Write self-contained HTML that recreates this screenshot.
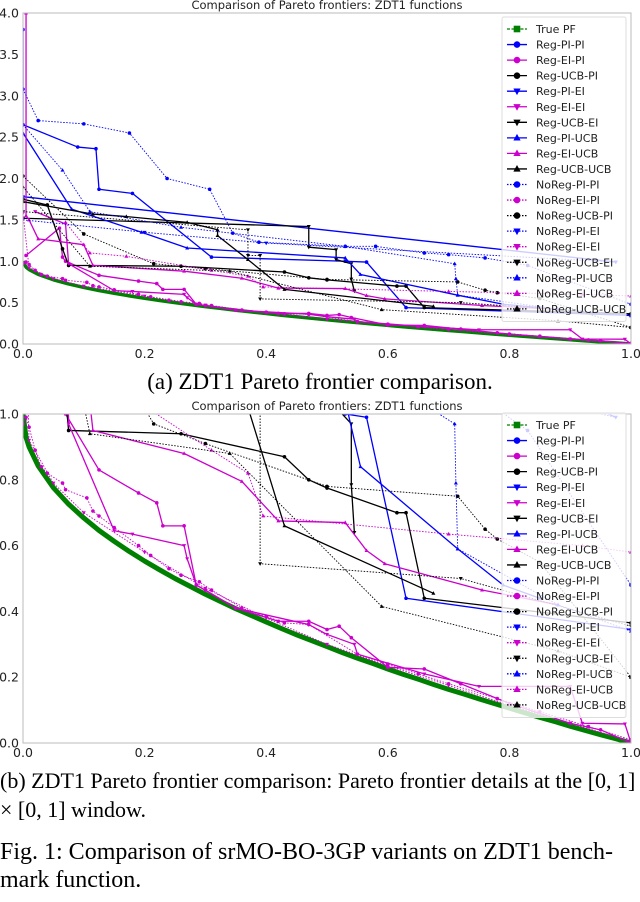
<!DOCTYPE html>
<html><head><meta charset="utf-8">
<style>
html,body{margin:0;padding:0;background:#fff;}
body{width:640px;height:902px;position:relative;overflow:hidden;}
.cap{position:absolute;left:0;font-family:"Liberation Serif",serif;color:#000;white-space:nowrap;line-height:1;}
svg text{font-family:"DejaVu Sans","Liberation Sans",sans-serif;}
</style></head>
<body>
<svg id="fig" width="640" height="770" style="position:absolute;left:0;top:0"></svg>
<div class="cap" style="top:370px;width:640px;text-align:center;font-size:23px;">(a) ZDT1 Pareto frontier comparison.</div>
<div class="cap" style="top:770px;font-size:22px;">(b) ZDT1 Pareto frontier comparison: Pareto frontier details at the [0, 1]</div>
<div class="cap" style="top:799px;font-size:22px;">× [0, 1] window.</div>
<div class="cap" style="top:840px;font-size:24px;">Fig. 1: Comparison of srMO-BO-3GP variants on ZDT1 bench-</div>
<div class="cap" style="top:868px;font-size:24px;">mark function.</div>
<script>
const truePF = [[0,1],[0.005,0.929],[0.01,0.9],[0.025,0.842],[0.05,0.776],[0.075,0.726],[0.1,0.684],[0.125,0.646],[0.15,0.613],[0.175,0.582],[0.2,0.553],[0.225,0.526],[0.25,0.5],[0.275,0.476],[0.3,0.452],[0.325,0.43],[0.35,0.408],[0.375,0.388],[0.4,0.368],[0.425,0.348],[0.45,0.329],[0.475,0.311],[0.5,0.293],[0.525,0.275],[0.55,0.258],[0.575,0.242],[0.6,0.225],[0.625,0.209],[0.65,0.194],[0.675,0.178],[0.7,0.163],[0.725,0.149],[0.75,0.134],[0.775,0.12],[0.8,0.106],[0.825,0.092],[0.85,0.078],[0.875,0.065],[0.9,0.051],[0.925,0.038],[0.95,0.025],[0.975,0.013],[1,0]];
const regPIPI = [[0,3.8],[0,2.65],[0.09,2.38],[0.12,2.36],[0.125,1.87],[0.18,1.82],[0.31,1.05],[0.53,1.0],[0.565,0.99],[0.63,0.44],[1.0,0.345]];
const regEIPI = [[0.005,1.07],[0.06,1.4],[0.065,1.05],[0.07,1.0],[0.125,0.83],[0.19,0.76],[0.22,0.73],[0.23,0.66],[0.265,0.66],[0.285,0.48],[0.3,0.465],[0.35,0.41],[0.42,0.37],[0.47,0.37],[0.5,0.345],[0.52,0.355],[0.54,0.32],[0.6,0.23],[0.66,0.225],[0.72,0.18],[0.8,0.12],[0.9,0.06],[0.95,0.04],[1.0,0.0]];
const regUCBPI = [[0,1.75],[0.04,1.68],[0.065,1.15],[0.075,0.95],[0.26,0.94],[0.43,0.87],[0.47,0.8],[0.5,0.775],[0.615,0.7],[0.63,0.7],[0.66,0.44],[1.0,0.365]];
const regPIEI = [[0,1.78],[0.975,0.99]];
const regEIEI = [[0.02,1.6],[0.07,1.45],[0.075,0.97],[0.15,0.645],[0.18,0.635],[0.265,0.6],[0.27,0.56],[0.285,0.48],[0.35,0.41],[0.47,0.36],[0.5,0.33],[0.545,0.3],[0.55,0.27],[0.66,0.21],[0.75,0.172],[0.9,0.172],[0.92,0.06],[0.99,0.058],[1.0,0.0]];
const regUCBEI = [[0,1.52],[0.47,1.42],[0.47,1.17],[0.515,1.14],[0.515,1.02],[0.54,0.97],[0.54,0.785],[0.545,0.64]];
const regPIUCB = [[0,2.55],[0.08,1.63],[0.195,1.35],[0.27,1.16],[0.53,1.04],[0.555,0.84],[0.715,0.59],[0.79,0.48],[0.85,0.44]];
const regEIUCB = [[0.005,4.0],[0.005,1.55],[0.01,1.5],[0.025,1.27],[0.1,1.2],[0.115,0.95],[0.265,0.88],[0.36,0.795],[0.42,0.675],[0.53,0.67],[0.565,0.585],[0.595,0.545],[0.755,0.465],[0.88,0.42]];
const regUCBUCB = [[0,1.72],[0.115,1.57],[0.17,1.54],[0.27,1.47],[0.32,1.38],[0.32,1.31],[0.37,1.02],[0.43,0.66],[0.675,0.455]];
const noRegPIPI = [[0,3.08],[0.025,2.7],[0.1,2.66],[0.175,2.55],[0.237,2.0],[0.307,1.87],[0.345,1.34],[0.388,1.23],[0.53,1.18],[0.58,1.18],[0.66,1.1],[0.7,1.08],[0.76,1.04],[0.83,0.95],[1.0,0.48]];
const noRegEIPI = [[0,0.97],[0.005,0.99],[0.01,0.96],[0.02,0.89],[0.03,0.84],[0.04,0.82],[0.065,0.79],[0.07,0.77],[0.105,0.745],[0.115,0.705],[0.125,0.69],[0.15,0.655],[0.19,0.6],[0.21,0.57],[0.24,0.53],[0.26,0.51],[0.29,0.49],[0.31,0.465],[0.36,0.41],[0.4,0.385],[0.43,0.365],[0.47,0.36],[0.55,0.27],[0.6,0.24],[0.65,0.21],[0.7,0.18],[0.78,0.135],[0.85,0.095],[0.93,0.05],[1.0,0.01]];
const noRegUCBPI = [[0,2.03],[0.1,1.33],[0.215,0.97],[0.3,0.91],[0.5,0.78],[0.715,0.75],[0.76,0.65],[0.78,0.62],[0.85,0.55],[1.0,0.2]];
const noRegPIEI = [[0,1.5],[0.2,1.35],[0.4,1.22],[0.975,0.99]];
const noRegEIEI = [[0,1.58],[0.01,0.92],[0.05,0.79],[0.1,0.7],[0.2,0.58],[0.3,0.47],[0.4,0.38],[0.5,0.3],[0.6,0.235],[0.7,0.175],[0.8,0.115],[0.9,0.06],[1.0,0.005]];
const noRegUCBEI = [[0,1.6],[0.37,1.38],[0.37,1.07],[0.39,1.07],[0.39,0.545],[0.72,0.5],[1.0,0.355]];
const noRegPIUCB = [[0,2.65],[0.065,2.1],[0.11,1.6],[0.26,1.41],[0.53,1.18],[0.71,0.97],[0.712,0.79],[0.715,0.59],[0.88,0.42],[1.0,0.34]];
const noRegEIUCB = [[0.07,1.47],[0.11,1.1],[0.17,1.06],[0.31,0.89],[0.37,0.82],[0.395,0.69],[0.7,0.635],[0.92,0.6],[1.0,0.58]];
const noRegUCBUCB = [[0,1.9],[0.11,0.94],[0.34,0.88],[0.59,0.415],[0.88,0.28],[1.0,0.2]];

const seriesNames = ["True PF","Reg-PI-PI","Reg-EI-PI","Reg-UCB-PI","Reg-PI-EI","Reg-EI-EI","Reg-UCB-EI","Reg-PI-UCB","Reg-EI-UCB","Reg-UCB-UCB","NoReg-PI-PI","NoReg-EI-PI","NoReg-UCB-PI","NoReg-PI-EI","NoReg-EI-EI","NoReg-UCB-EI","NoReg-PI-UCB","NoReg-EI-UCB","NoReg-UCB-UCB"];
const seriesData = [truePF,regPIPI,regEIPI,regUCBPI,regPIEI,regEIEI,regUCBEI,regPIUCB,regEIUCB,regUCBUCB,noRegPIPI,noRegEIPI,noRegUCBPI,noRegPIEI,noRegEIEI,noRegUCBEI,noRegPIUCB,noRegEIUCB,noRegUCBUCB];
const topYTicks = ["0.0","0.5","1.0","1.5","2.0","2.5","3.0","3.5","4.0"];
const botYTicks = ["0.0","0.2","0.4","0.6","0.8","1.0"];
const xTicks = ["0.0","0.2","0.4","0.6","0.8","1.0"];

const NS = "http://www.w3.org/2000/svg";
const svg = document.getElementById('fig');
function mk(tag, attrs, parent){const e=document.createElementNS(NS,tag);for(const k in attrs)e.setAttribute(k,attrs[k]);(parent||svg).appendChild(e);return e;}
function styleFor(i){
  if(i===0) return {color:'#008000',dash:null,marker:'square',solid:true};
  const reg = i<=9;
  const k = (i-1)%9;
  const colors=['#0000ff','#cc00cc','#000000'];
  const markers=['circle','circle','circle','down','down','down','up','up','up'];
  return {color:colors[k%3],dash:reg?null:'1.5,1.5',marker:markers[k],solid:reg};
}
function marker(g,type,x,y,s,color){
  let e;
  if(type==='circle') e=mk('circle',{cx:x,cy:y,r:s,fill:color},g);
  else if(type==='square') e=mk('rect',{x:x-s,y:y-s,width:2*s,height:2*s,fill:color},g);
  else if(type==='up') e=mk('polygon',{points:`${x},${y-s*1.2} ${x-s*1.1},${y+s*0.8} ${x+s*1.1},${y+s*0.8}`,fill:color},g);
  else e=mk('polygon',{points:`${x},${y+s*1.2} ${x-s*1.1},${y-s*0.8} ${x+s*1.1},${y-s*0.8}`,fill:color},g);
  
  
}
function chart(opt){
  const {id,L,R,T,B,ymax,yticks,titleY,legT}=opt;
  const g=mk('g',{});
  
  
  const sx=v=>L+v*(R-L);
  const sy=v=>B-v/ymax*(B-T);
  const cp=mk('clipPath',{id:id+'-clip'},g);
  mk('rect',{x:L,y:T,width:R-L,height:B-T},cp);
  const title=mk('text',{x:327,y:titleY,'text-anchor':'middle','font-size':11.5,fill:'#222'},g);
  title.textContent='Comparison of Pareto frontiers: ZDT1 functions';
  
  
  const plot=mk('g',{'clip-path':`url(#${id}-clip)`},g);
  
  
  for(let i=0;i<seriesData.length;i++){
    const st=styleFor(i);
    const sg=mk('g',{},plot);
    
    
    const pts=seriesData[i].map(p=>sx(p[0])+','+sy(p[1])).join(' ');
    const pl=mk('polyline',{points:pts,fill:'none',stroke:st.color,'stroke-width':i===0?(ymax>2?3.5:5):(st.solid?1.3:0.9),'stroke-linejoin':'round'},sg);
    if(st.dash) pl.setAttribute('stroke-dasharray',st.dash);
    
    
    if(i!==0) for(const p of seriesData[i]) marker(sg,st.marker,sx(p[0]),sy(p[1]),1.8,st.color);
  }
  mk('rect',{x:L,y:T,width:R-L,height:B-T,fill:'none',stroke:'#bbb','stroke-width':1},g);
  yticks.forEach((t,j)=>{
    const v=j*(ymax/(yticks.length-1));
    const tx=mk('text',{x:L-4,y:sy(v)+4.5,'text-anchor':'end','font-size':12.5,fill:'#222'},g);
    tx.textContent=t;
    
    
  });
  xTicks.forEach((t,j)=>{
    const tx=mk('text',{x:sx(j*0.2),y:B+14,'text-anchor':'middle','font-size':12.5,fill:'#222'},g);
    tx.textContent=t;
    
    
  });
  const lg=mk('g',{},g);
  
  
  mk('rect',{x:502,y:legT,width:124,height:19*15.55+9,fill:'#fff','fill-opacity':0.8,stroke:'#ddd',rx:2},lg);
  seriesNames.forEach((n,i)=>{
    const st=styleFor(i);
    const y=legT+12+i*15.55;
    const eg=mk('g',{},lg);
    
    
    const ln=mk('line',{x1:507,y1:y,x2:527,y2:y,stroke:st.color,'stroke-width':1.3},eg);
    if(i===0||st.dash) ln.setAttribute('stroke-dasharray',i===0?'3,1.5':st.dash);
    marker(eg,st.marker,517,y,3.3,st.color);
    const tx=mk('text',{x:536,y:y+4,'font-size':11,fill:'#222'},eg);
    tx.textContent=n;
  });
}
chart({id:'chart-top',L:23,R:631,T:13,B:344,ymax:4,yticks:topYTicks,titleY:9,legT:17});
chart({id:'chart-bottom',L:23,R:631,T:414,B:743,ymax:1,yticks:botYTicks,titleY:410,legT:413});
</script>
</body></html>
